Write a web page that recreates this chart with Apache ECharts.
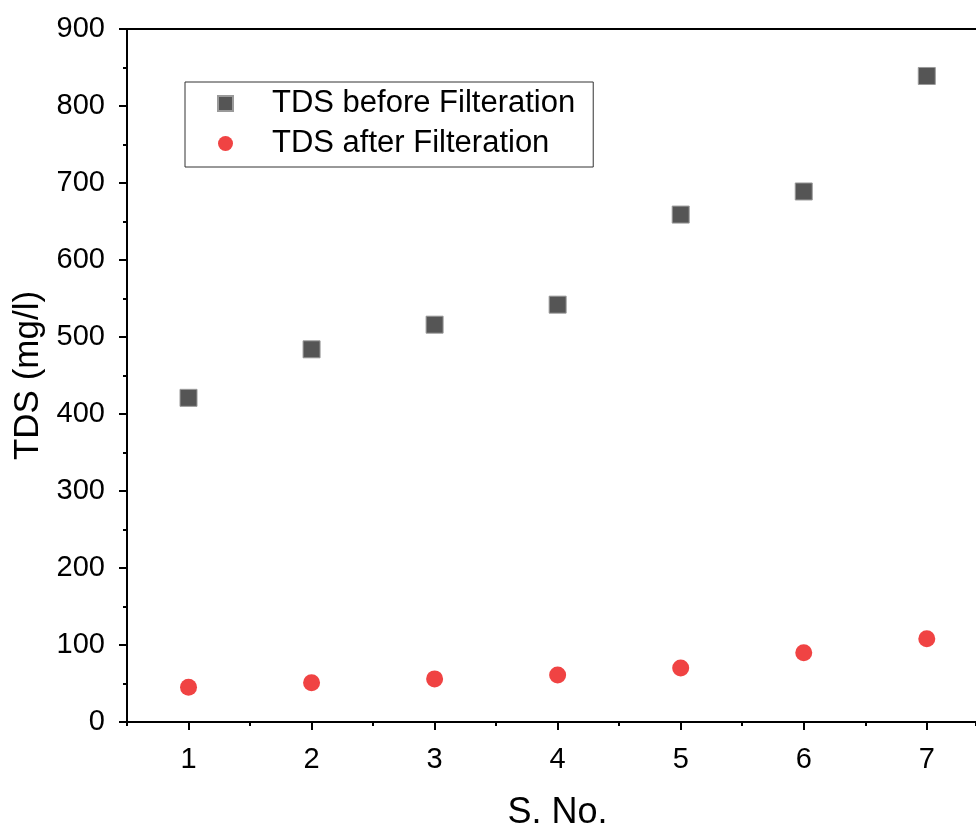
<!DOCTYPE html>
<html>
<head>
<meta charset="utf-8">
<script src="https://cdn.jsdelivr.net/npm/echarts@6/dist/echarts.min.js"></script>
<style>
  html, body { margin: 0; padding: 0; background: #fff; }
  #chart { width: 976px; height: 826px; }
</style>
</head>
<body>
<div id="chart"></div>
<script>
// data
const sNo = [1, 2, 3, 4, 5, 6, 7];
const tdsBefore = [421, 484, 516, 542, 659, 689, 839];
const tdsAfter = [45, 51, 56, 61, 70, 90, 108];
const yTicks = [0, 100, 200, 300, 400, 500, 600, 700, 800, 900];

const font = 'Arial, "Liberation Sans", sans-serif';
// plot runs past the right edge of the picture, so cut the x range there
const xMin = 0.5;
const xMax = 7.4;

function pairs(xs, ys) {
    return xs.map(function (x, i) { return [x, ys[i]]; });
}

const blackLine = { color: '#000', width: 2 };

const myChart = echarts.init(document.getElementById('chart'));

const option = {
    backgroundColor: '#fff',
    animation: false,
    grid: {
        left: 127,
        top: 29,
        right: 0,
        bottom: 104,
        outerBoundsMode: 'none',
        containLabel: false
    },
    legend: {
        orient: 'vertical',
        left: 185,
        top: 82,
        padding: [6, 18, 8, 32],
        itemGap: 9,
        itemWidth: 15,
        itemHeight: 15,
        borderColor: '#333',
        borderWidth: 1,
        textStyle: {
            fontFamily: font,
            fontSize: 31,
            color: '#000',
            padding: [0, 0, 0, 34]
        },
        data: ['TDS before Filteration', 'TDS after Filteration']
    },
    xAxis: [{
        // main axis: labels + long ticks at integers
        type: 'value',
        min: xMin,
        max: xMax,
        name: 'S. No.',
        nameLocation: 'middle',
        nameGap: 73,
        nameTextStyle: { fontFamily: font, fontSize: 36, color: '#000', padding: [0, 0, 0, 12] },
        axisLine: { show: true, lineStyle: blackLine },
        axisTick: {
            show: true,
            inside: false,
            length: 8,
            customValues: sNo,
            lineStyle: blackLine
        },
        axisLabel: {
            customValues: sNo,
            margin: 23,
            fontFamily: font,
            fontSize: 29,
            color: '#000'
        },
        splitLine: { show: false }
    }, {
        // half-step short ticks
        type: 'value',
        position: 'bottom',
        min: xMin,
        max: xMax,
        interval: 1,
        axisLine: { show: false },
        axisTick: { show: true, inside: false, length: 4, lineStyle: blackLine },
        axisLabel: { show: false },
        splitLine: { show: false }
    }, {
        // top frame line
        type: 'value',
        position: 'top',
        min: xMin,
        max: xMax,
        axisLine: { show: true, lineStyle: blackLine },
        axisTick: { show: false },
        axisLabel: { show: false },
        splitLine: { show: false }
    }],
    yAxis: {
        type: 'value',
        min: yTicks[0],
        max: yTicks[yTicks.length - 1],
        interval: 100,
        name: 'TDS (mg/l)',
        nameLocation: 'middle',
        nameGap: 80,
        nameTextStyle: { fontFamily: font, fontSize: 35, color: '#000' },
        axisLine: { show: true, lineStyle: blackLine },
        axisTick: { show: true, inside: false, length: 8, lineStyle: blackLine },
        minorTick: { show: true, splitNumber: 2, length: 4, lineStyle: blackLine },
        axisLabel: {
            margin: 22,
            fontFamily: font,
            fontSize: 29,
            color: '#000'
        },
        splitLine: { show: false },
        minorSplitLine: { show: false }
    },
    series: [{
        name: 'TDS before Filteration',
        type: 'scatter',
        symbol: 'rect',
        symbolSize: 17,
        itemStyle: { color: '#555555', borderColor: '#9a9a9a', borderWidth: 1, opacity: 1 },
        data: pairs(sNo, tdsBefore)
    }, {
        name: 'TDS after Filteration',
        type: 'scatter',
        symbol: 'circle',
        symbolSize: 17,
        itemStyle: { color: '#f04343', opacity: 1 },
        data: pairs(sNo, tdsAfter)
    }]
};

myChart.setOption(option);
</script>
</body>
</html>
